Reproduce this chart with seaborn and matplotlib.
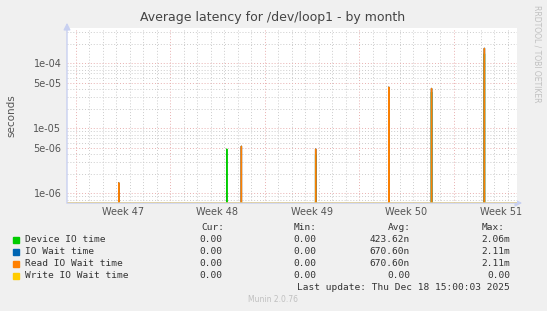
import numpy as np
import pandas as pd
import matplotlib
matplotlib.use("Agg")
import matplotlib.pyplot as plt
import matplotlib.patches as mpatches
import seaborn as sns

# ---- data ----
series_names = ["Device IO time", "IO Wait time", "Read IO Wait time", "Write IO Wait time"]
series_colors = ["#00cc00", "#0066b3", "#ff8000", "#ffcc00"]
# spike positions in days from left edge of the graph
spike_days = [3.87, 11.87, 12.91, 18.39, 23.80, 26.99, 30.89]
device_vals = [1.2e-6, 4.8e-6, 0.0, 4.0e-6, 3.5e-5, 3.6e-5, 1.4e-4]
iowait_vals = [1.45e-6, 0.0, 5.3e-6, 4.8e-6, 4.3e-5, 4.1e-5, 1.7e-4]
read_vals = [1.45e-6, 0.0, 5.3e-6, 4.8e-6, 4.3e-5, 4.1e-5, 1.7e-4]
write_vals = [0.0, 0.0, 0.0, 0.0, 0.0, 0.0, 0.0]
week_labels = ["Week 47", "Week 48", "Week 49", "Week 50", "Week 51"]
legend_cur = ["0.00", "0.00", "0.00", "0.00"]
legend_min = ["0.00", "0.00", "0.00", "0.00"]
legend_avg = ["423.62n", "670.60n", "670.60n", "0.00"]
legend_max = ["2.06m", "2.11m", "2.11m", "0.00"]

# ---- build time series at 2 hour resolution ----
x_max = 33.33
step = 1.0 / 12.0
t = np.arange(0, x_max + step, step)
rows = []
for name, vals in zip(series_names, [device_vals, iowait_vals, read_vals, write_vals]):
    y = np.zeros_like(t)
    for d, v in zip(spike_days, vals):
        y[int(round(d / step))] = v
    rows.append(pd.DataFrame({"day": t, "value": y, "series": name}))
df = pd.concat(rows, ignore_index=True)

W, H = 547, 311
fig = plt.figure(figsize=(W / 100, H / 100), dpi=100, facecolor="#f0f0f0")
ax = fig.add_axes([67 / W, 1 - 203 / H, 450 / W, 175 / H])
ax.set_facecolor("white")

ax.set_xlim(0, x_max)
ax.set_ylim(7.1e-7, 3.49e-4)

# grid lines
grey = "#cccccc"
red = "#e8b0b0"
dot = (0, (1, 2))
first_week = 0.64
for k in range(34):
    d = first_week + k
    if d > x_max:
        break
    if k % 7 == 0:
        ax.axvline(d, color=red, lw=0.7, ls=dot, zorder=1)
    else:
        ax.axvline(d, color=grey, lw=0.7, ls=dot, zorder=1)
for dec in [1e-7, 1e-6, 1e-5, 1e-4]:
    for m in range(1, 10):
        v = m * dec
        if 7.1e-7 < v < 3.49e-4:
            c = red if m in (1, 5) else grey
            ax.axhline(v, color=c, lw=0.7, ls=dot, zorder=1)

sns.lineplot(data=df, x="day", y="value", hue="series", hue_order=series_names,
             palette=dict(zip(series_names, series_colors)), ax=ax, legend=False,
             lw=1.0, estimator=None, sort=True, zorder=3)
ax.set_yscale("log", nonpositive="clip")
ax.set_xlim(0, x_max)
ax.set_ylim(7.1e-7, 3.49e-4)

# baseline (zero values)
ax.axhline(7.1e-7, color="#d8c898", lw=1.2, zorder=4)

# ticks
ax.set_yticks([1e-6, 5e-6, 1e-5, 5e-5, 1e-4])
ax.set_yticklabels(["1e-06", "5e-06", "1e-05", "5e-05", "1e-04"])
ax.yaxis.set_minor_locator(matplotlib.ticker.NullLocator())
ax.set_xticks([first_week + 3.5 + 7 * k for k in range(5)])
ax.set_xticklabels(week_labels)
ax.tick_params(axis="both", length=0, labelsize=7, labelcolor="#555555", pad=3)
ax.tick_params(axis="y", pad=4)
ax.set_xlabel("")
ax.set_ylabel("seconds", fontsize=7.5, color="#555555", labelpad=12)
for s in ax.spines.values():
    s.set_visible(False)

# axis arrows
fig.add_artist(mpatches.FancyArrowPatch((67, H - 205), (67, H - 20), transform=None,
                                        arrowstyle="-|>,head_length=4,head_width=2",
                                        color="#c8d0f0", lw=1, zorder=5))
fig.add_artist(mpatches.FancyArrowPatch((64, H - 203), (525, H - 203), transform=None,
                                        arrowstyle="-|>,head_length=4,head_width=2",
                                        color="#c8d0f0", lw=1, zorder=0))

fig.text(273 / W, 1 - 18 / H, "Average latency for /dev/loop1 - by month",
         ha="center", va="center", fontsize=9.0, color="#444444")
fig.text(537 / W, 1 - 5 / H, "RRDTOOL / TOBI OETIKER", rotation=270, ha="center", va="top",
         fontsize=5.5, color="#c0c0c0")

# legend
mono = "DejaVu Sans Mono"
fs = 6.8
tc = "#333333"
hy = 227.7
fig.text(224 / W, 1 - hy / H, "Cur:", ha="right", va="center", family=mono, fontsize=fs, color=tc)
fig.text(317 / W, 1 - hy / H, "Min:", ha="right", va="center", family=mono, fontsize=fs, color=tc)
fig.text(411 / W, 1 - hy / H, "Avg:", ha="right", va="center", family=mono, fontsize=fs, color=tc)
fig.text(505 / W, 1 - hy / H, "Max:", ha="right", va="center", family=mono, fontsize=fs, color=tc)
for i, name in enumerate(series_names):
    y = 239.7 + 12 * i
    fig.add_artist(mpatches.Rectangle(((13) / W, 1 - (y + 3) / H), 6 / W, 6 / H,
                                      transform=fig.transFigure, color=series_colors[i]))
    fig.text(25 / W, 1 - y / H, name, ha="left", va="center", family=mono, fontsize=fs, color=tc)
    fig.text(222 / W, 1 - y / H, legend_cur[i], ha="right", va="center", family=mono, fontsize=fs, color=tc)
    fig.text(316 / W, 1 - y / H, legend_min[i], ha="right", va="center", family=mono, fontsize=fs, color=tc)
    fig.text(410 / W, 1 - y / H, legend_avg[i], ha="right", va="center", family=mono, fontsize=fs, color=tc)
    fig.text(510 / W, 1 - y / H, legend_max[i], ha="right", va="center", family=mono, fontsize=fs, color=tc)
fig.text(510 / W, 1 - 287.7 / H, "Last update: Thu Dec 18 15:00:03 2025", ha="right", va="center",
         family=mono, fontsize=fs, color=tc)
fig.text(273 / W, 1 - 300 / H, "Munin 2.0.76", ha="center", va="center", fontsize=5.5, color="#c0c0c0")

fig.savefig("out.png", dpi=100, facecolor=fig.get_facecolor())
